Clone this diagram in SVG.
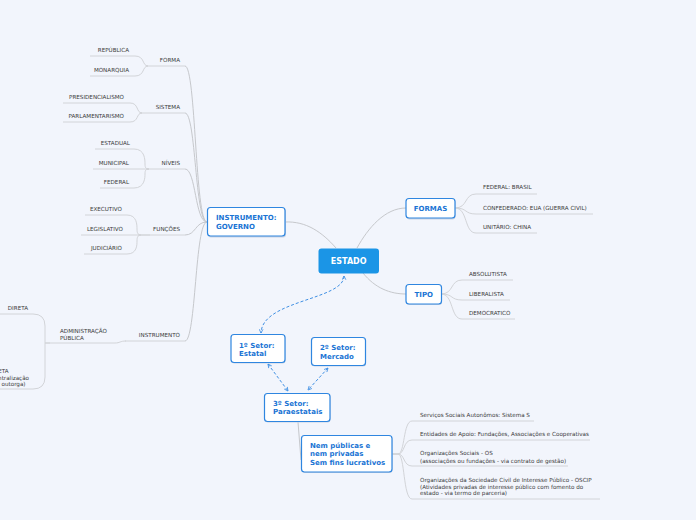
<svg xmlns="http://www.w3.org/2000/svg" width="696" height="520" viewBox="0 0 696 520">
<defs>
<marker id="ah" viewBox="0 0 8 8" refX="7" refY="4" markerWidth="5" markerHeight="5" orient="auto-start-reverse" markerUnits="userSpaceOnUse">
<path d="M1,1 L7,4 L1,7" fill="none" stroke="#3f8fe3" stroke-width="1.3"/>
</marker>
</defs>
<style>
.bg{fill:#f2f5fc}
.ln{fill:none;stroke:#c6c8cc;stroke-width:1}
.ul{fill:none;stroke:#d2d4d8;stroke-width:1}
.ds{fill:none;stroke:#3f8fe3;stroke-width:1;stroke-dasharray:3 2}
.box{fill:#ffffff;stroke:#2f86e0;stroke-width:1.2}
.sh{fill:#c9d3e3}
.bt{font-family:"DejaVu Sans",Verdana,sans-serif;font-weight:bold;font-size:7px;fill:#1a74d4}
.t{font-family:"DejaVu Sans",Verdana,sans-serif;font-size:5.6px;fill:#3a3a3a}
.e{text-anchor:end}
</style>
<rect class="bg" x="0" y="0" width="696" height="520"/>

<g id="connectors">
<!-- main -->
<path class="ln" d="M285,222 C306,221 322,232 336,248"/>
<path class="ln" d="M357,248 C368,228 385,208 406,208"/>
<path class="ln" d="M363,273 C375,288 390,294 406,294"/>
<path class="ln" d="M298,422 L301,460"/>
<!-- left trunk -->
<path class="ln" d="M207,222 C195,222 196,66 185,66"/>
<path class="ln" d="M207,222 C195,222 196,113 185,113"/>
<path class="ln" d="M207,222 C195,222 196,169 185,169"/>
<path class="ln" d="M207,222 C195,222 196,235 185,235"/>
<path class="ln" d="M207,222 C195,222 196,341 185,341"/>
<!-- FORMA -->
<path class="ul" d="M146,66 H185"/>
<path class="ul" d="M90,56 H135 C145,56 142,66 148,66"/>
<path class="ul" d="M90,76 H135 C145,76 142,66 148,66"/>
<!-- SISTEMA -->
<path class="ul" d="M140,113 H185"/>
<path class="ul" d="M63,103 H130 C139,103 136,113 142,113"/>
<path class="ul" d="M63,122 H130 C139,122 136,113 142,113"/>
<!-- NIVEIS -->
<path class="ul" d="M147,169 H185"/>
<path class="ul" d="M95,149 H134 C145,149 145,160 145,164 C145,168 146,169 149,169"/>
<path class="ul" d="M93,169 H149"/>
<path class="ul" d="M100,188 H134 C145,188 145,177 145,174 C145,170 146,169 149,169"/>
<!-- FUNCOES -->
<path class="ul" d="M138,235 H185"/>
<path class="ul" d="M85,215 H127 C137,215 137,225 137,229 C137,233 138,235 141,235"/>
<path class="ul" d="M81,235 H150"/>
<path class="ul" d="M84,254 H127 C137,254 137,245 137,241 C137,237 138,235 141,235"/>
<!-- INSTRUMENTO -->
<path class="ul" d="M125,341 H185"/>
<path class="ul" d="M45,343 H115 C120,343 120,341 126,341"/>
<path class="ul" d="M0,314 H33 Q45,314 45,326 V343 H50"/>
<path class="ul" d="M0,389 H33 Q45,389 45,377 V343"/>
<!-- FORMAS children -->
<path class="ul" d="M455,208 C468,208 464,194 476,194 H537"/>
<path class="ul" d="M455,208 C468,208 464,214 476,214 H593"/>
<path class="ul" d="M455,208 C468,208 464,233 476,233 H537"/>
<!-- TIPO children -->
<path class="ul" d="M441,294 C454,294 450,280 462,280 H513"/>
<path class="ul" d="M441,294 C454,294 450,300 462,300 H510"/>
<path class="ul" d="M441,294 C454,294 450,319 462,319 H515"/>
<!-- Nem publicas children -->
<path class="ul" d="M392,454 H398 C405,454 403,421 412,421 H534"/>
<path class="ul" d="M392,454 H398 C405,454 403,440 412,440 H590"/>
<path class="ul" d="M392,454 H398 C405,454 403,466 412,466 H568"/>
<path class="ul" d="M392,454 H398 C405,454 403,499 412,499 H600"/>
<!-- dashed -->
<path class="ds" d="M344,276 C344,300 262,300 261,333" marker-start="url(#ah)" marker-end="url(#ah)"/>
<path class="ds" d="M268,364 L288,391" marker-start="url(#ah)" marker-end="url(#ah)"/>
<path class="ds" d="M328,368 L308,390" marker-start="url(#ah)" marker-end="url(#ah)"/>
</g>

<g id="estado">
<rect x="318.5" y="248.5" width="60.5" height="25" rx="3" fill="#1b95e6"/>
<text x="348.7" y="264" text-anchor="middle" style="font-family:'DejaVu Sans',Verdana,sans-serif;font-weight:bold;font-size:8px;fill:#ffffff">ESTADO</text>
</g>

<g id="instrumento-governo">
<rect class="sh" x="208" y="208.5" width="78" height="29" rx="3"/>
<rect class="box" x="207.5" y="207.5" width="77.5" height="28.5" rx="3"/>
<text class="bt" x="216" y="220">INSTRUMENTO:</text>
<text class="bt" x="216" y="228.5">GOVERNO</text>
</g>

<g id="formas">
<rect class="sh" x="406.5" y="199.5" width="49" height="20" rx="3"/>
<rect class="box" x="406" y="198.5" width="49" height="19.5" rx="3"/>
<text class="bt" x="430.5" y="210.5" text-anchor="middle">FORMAS</text>
</g>

<g id="tipo">
<rect class="sh" x="406.5" y="285.5" width="35.5" height="19.5" rx="3"/>
<rect class="box" x="406" y="284.5" width="35.5" height="19.5" rx="3"/>
<text class="bt" x="423.8" y="296.5" text-anchor="middle">TIPO</text>
</g>

<g id="setor1">
<rect class="sh" x="231.5" y="335.5" width="54" height="28" rx="3"/>
<rect class="box" x="231" y="334.5" width="54" height="28" rx="3"/>
<text class="bt" x="239" y="347.5">1º Setor:</text>
<text class="bt" x="239" y="355.5">Estatal</text>
</g>

<g id="setor2">
<rect class="sh" x="312" y="338.5" width="54" height="28" rx="3"/>
<rect class="box" x="311.5" y="337.5" width="54" height="28" rx="3"/>
<text class="bt" x="320" y="350">2º Setor:</text>
<text class="bt" x="320" y="358.5">Mercado</text>
</g>

<g id="setor3">
<rect class="sh" x="265" y="394.5" width="65.5" height="28" rx="3"/>
<rect class="box" x="264.5" y="393.5" width="65.5" height="28" rx="3"/>
<text class="bt" x="273" y="406">3º Setor:</text>
<text class="bt" x="273" y="414">Paraestatais</text>
</g>

<g id="nem-publicas">
<rect class="sh" x="302" y="436.5" width="90.5" height="36.5" rx="3"/>
<rect class="box" x="301.5" y="435.5" width="90.5" height="36.5" rx="3"/>
<text class="bt" x="310" y="447.5">Nem públicas e</text>
<text class="bt" x="310" y="456">nem privadas</text>
<text class="bt" x="310" y="464.5">Sem fins lucrativos</text>
</g>

<g id="forma"><text class="t e" x="180" y="62">FORMA</text></g>
<g id="republica"><text class="t e" x="129" y="52">REPÚBLICA</text></g>
<g id="monarquia"><text class="t e" x="129" y="72">MONARQUIA</text></g>
<g id="sistema"><text class="t e" x="180" y="109">SISTEMA</text></g>
<g id="presidencialismo"><text class="t e" x="124" y="99">PRESIDENCIALISMO</text></g>
<g id="parlamentarismo"><text class="t e" x="124" y="118">PARLAMENTARISMO</text></g>
<g id="niveis"><text class="t e" x="180" y="165">NÍVEIS</text></g>
<g id="estadual"><text class="t e" x="130" y="145">ESTADUAL</text></g>
<g id="municipal"><text class="t e" x="129" y="165">MUNICIPAL</text></g>
<g id="federal"><text class="t e" x="129" y="184">FEDERAL</text></g>
<g id="funcoes"><text class="t e" x="180" y="231">FUNÇÕES</text></g>
<g id="executivo"><text class="t e" x="122" y="211">EXECUTIVO</text></g>
<g id="legislativo"><text class="t e" x="123" y="231">LEGISLATIVO</text></g>
<g id="judiciario"><text class="t e" x="122" y="250">JUDICIÁRIO</text></g>
<g id="instrumento"><text class="t e" x="180" y="337">INSTRUMENTO</text></g>
<g id="administracao"><text class="t" x="60" y="333">ADMINISTRAÇÃO</text><text class="t" x="60" y="340">PÚBLICA</text></g>
<g id="direta"><text class="t e" x="28" y="310">DIRETA</text></g>
<g id="indireta"><text class="t e" x="8.5" y="373">INDIRETA</text><text class="t e" x="29" y="379.5">(descentralização</text><text class="t e" x="25.5" y="386">por outorga)</text></g>

<g id="federal-brasil"><text class="t" x="483" y="189">FEDERAL: BRASIL</text></g>
<g id="confederado"><text class="t" x="483" y="210">CONFEDERADO: EUA (GUERRA CIVIL)</text></g>
<g id="unitario"><text class="t" x="483" y="229">UNITÁRIO: CHINA</text></g>
<g id="absolutista"><text class="t" x="469" y="276">ABSOLUTISTA</text></g>
<g id="liberalista"><text class="t" x="469" y="296">LIBERALISTA</text></g>
<g id="democratico"><text class="t" x="469" y="315">DEMOCRATICO</text></g>

<g id="servicos"><text class="t" x="420" y="417">Serviços Sociais Autonômos: Sistema S</text></g>
<g id="entidades"><text class="t" x="420" y="436">Entidades de Apoio: Fundações, Associações e Cooperativas</text></g>
<g id="os"><text class="t" x="420" y="455">Organizações Sociais - OS</text><text class="t" x="420" y="462.5">(associações ou fundações - via contrato de gestão)</text></g>
<g id="oscip"><text class="t" x="420" y="482">Organizações da Sociedade Civil de Interesse Público - OSCIP</text><text class="t" x="420" y="488.5">(Atividades privadas de interesse público com fomento do</text><text class="t" x="420" y="495">estado - via termo de parceria)</text></g>
</svg>
